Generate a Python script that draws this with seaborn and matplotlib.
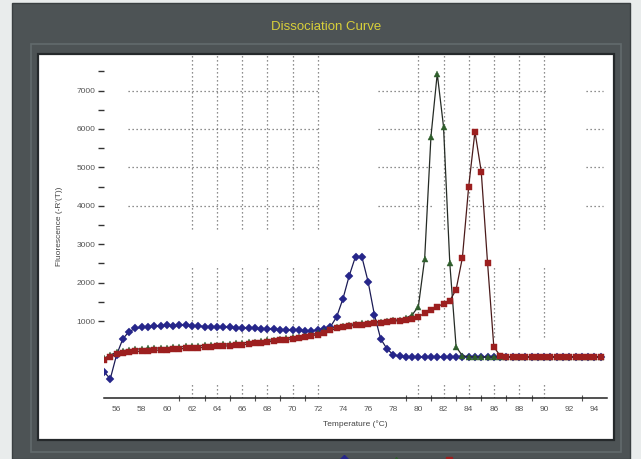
import numpy as np
import pandas as pd
import matplotlib
matplotlib.use("Agg")
import matplotlib.pyplot as plt
import seaborn as sns
from matplotlib.patches import Rectangle
from matplotlib.lines import Line2D

# ---------------- data ----------------
temperature = [55.0, 55.5, 56.0, 56.5, 57.0, 57.5, 58.0, 58.5, 59.0, 59.5,
               60.0, 60.5, 61.0, 61.5, 62.0, 62.5, 63.0, 63.5, 64.0, 64.5,
               65.0, 65.5, 66.0, 66.5, 67.0, 67.5, 68.0, 68.5, 69.0, 69.5,
               70.0, 70.5, 71.0, 71.5, 72.0, 72.5, 73.0, 73.5, 74.0, 74.5,
               75.0, 75.5, 76.0, 76.5, 77.0, 77.5, 78.0, 78.5, 79.0, 79.5,
               80.0, 80.5, 81.0, 81.5, 82.0, 82.5, 83.0, 83.5, 84.0, 84.5,
               85.0, 85.5, 86.0, 86.5, 87.0, 87.5, 88.0, 88.5, 89.0, 89.5,
               90.0, 90.5, 91.0, 91.5, 92.0, 92.5, 93.0, 93.5, 94.0, 94.5]

sample_blue = [-320, -500, 120, 540, 730, 810, 840, 860, 870, 880,
               890, 880, 890, 900, 880, 870, 860, 860, 850, 850,
               840, 830, 830, 820, 810, 800, 800, 790, 780, 770,
               760, 760, 750, 750, 760, 790, 850, 1110, 1580, 2180,
               2680, 2680, 2030, 1170, 540, 280, 125, 80, 75, 70,
               70, 75, 70, 70, 65, 70, 75, 70, 70, 65,
               70, 70, 75, 70, 65, 70, 70, 75, 70, 70,
               65, 70, 70, 75, 70, 70, 65, 70, 70, 75]

sample_green = [30, 120, 190, 230, 250, 270, 280, 290, 300, 300,
                310, 320, 330, 340, 350, 360, 370, 380, 390, 400,
                410, 420, 430, 450, 460, 480, 500, 520, 540, 560,
                580, 600, 620, 650, 690, 740, 800, 850, 880, 910,
                930, 950, 960, 980, 990, 1000, 1020, 1040, 1080, 1160,
                1380, 2625, 5800, 7440, 6060, 2500, 330, 100, 75, 70,
                70, 65, 70, 75, 70, 70, 65, 70, 70, 75,
                70, 70, 65, 70, 75, 70, 70, 65, 70, 70]

sample_red = [-20, 60, 140, 180, 200, 210, 220, 230, 240, 250,
              260, 270, 280, 290, 300, 310, 320, 330, 340, 350,
              360, 370, 390, 400, 420, 440, 460, 480, 500, 520,
              540, 570, 600, 620, 650, 700, 760, 810, 850, 870,
              890, 910, 930, 950, 960, 980, 1000, 1010, 1030, 1060,
              1120, 1200, 1290, 1380, 1450, 1530, 1820, 2650, 4500, 5930,
              4890, 2520, 330, 100, 75, 70, 70, 65, 70, 75,
              70, 70, 65, 70, 70, 75, 70, 70, 65, 70]

sample_names = ["Well A1", "Well A2", "Well A3"]
sample_colors = ["#26268a", "#2f5e2c", "#9c1f1f"]
line_colors = ["#1b1b55", "#252b25", "#4a1a1a"]
sample_markers = ["D", "^", "s"]

y_major = [1000, 2000, 3000, 4000, 5000, 6000, 7000]
y_minor = [1500, 2500, 3500, 4500, 5500, 6500, 7500]
x_major = [56, 58, 60, 62, 64, 66, 68, 70, 72, 74, 76, 78, 80, 82, 84, 86, 88, 90, 92, 94]
x_minor = [61, 62, 63, 64, 65, 66, 67, 68, 69, 70, 71, 72,
           79, 80, 81, 82, 83, 84, 85, 86, 87, 88, 89, 90, 93]
grid_x = [62, 64, 66, 68, 70, 72, 80, 82, 84, 86, 88, 90]
grid_y = [4000, 5000, 6000, 7000]
grid_x_spans = [(3400, 8000), (600, 2400), (-1000, -600)]
grid_y_spans = [(56.9, 72.2), (76.8, 81.1), (84.3, 90.3), (93.3, 94.7)]

df = pd.DataFrame({
    "Temperature": temperature * 3,
    "Fluorescence": sample_blue + sample_green + sample_red,
    "Sample": [sample_names[0]] * len(temperature)
              + [sample_names[1]] * len(temperature)
              + [sample_names[2]] * len(temperature),
})

# ---------------- figure ----------------
W, H = 641, 459
fig = plt.figure(figsize=(W / 100, H / 100), dpi=100)
fig.patch.set_facecolor("#e9ecec")

def fr(x0, y0, x1, y1):
    return (x0 / W, 1 - y1 / H), (x1 - x0) / W, (y1 - y0) / H

xy, w, h = fr(12, 3, 630, 459)
fig.add_artist(Rectangle(xy, w, h, transform=fig.transFigure,
                         facecolor="#4d5355", edgecolor="#3a3f41", lw=1, zorder=-10))
xy, w, h = fr(31, 44, 621, 452)
fig.add_artist(Rectangle(xy, w, h, transform=fig.transFigure,
                         facecolor="none", edgecolor="#626a6c", lw=1.2, zorder=-9))
xy, w, h = fr(38, 54, 614, 440)
fig.add_artist(Rectangle(xy, w, h, transform=fig.transFigure,
                         facecolor="white", edgecolor="#25292b", lw=1.6, zorder=-8))

fig.text(326 / W, 1 - 27 / H, "Dissociation Curve", color="#d8cf3a",
         fontsize=9.5, ha="center", va="center", family="Liberation Sans")

ax = fig.add_axes([104 / W, 1 - 398 / H, 503 / W, 344 / H])
ax.set_facecolor("none")

# grid (dotted segments)
for lo, hi in grid_x_spans:
    ax.vlines(grid_x, lo, hi, colors="#6a6a6a", linestyles=(0, (1, 2.2)), lw=0.9, zorder=1)
for lo, hi in grid_y_spans:
    ax.hlines(grid_y, lo, hi, colors="#6a6a6a", linestyles=(0, (1, 2.2)), lw=0.9, zorder=1)

sns.lineplot(data=df, x="Temperature", y="Fluorescence", hue="Sample", style="Sample",
             palette=dict(zip(sample_names, sample_colors)),
             markers=dict(zip(sample_names, sample_markers)), dashes=False,
             lw=0.9, markersize=4.0, markeredgewidth=0.3, ax=ax, legend=False, zorder=3)

# darker connecting lines, series-coloured markers
for ln, lc, mc in zip(ax.get_lines()[-3:], line_colors, sample_colors):
    ln.set_color(lc)
    ln.set_markerfacecolor(mc)
    ln.set_markeredgecolor(mc)

ax.set_xlim(55, 95)
ax.set_ylim(-1000, 7950)

for s in ["left", "top", "right"]:
    ax.spines[s].set_visible(False)
ax.spines["bottom"].set_color("#222222")
ax.spines["bottom"].set_linewidth(1.1)

ax.set_yticks(y_major)
ax.set_yticklabels([str(v) for v in y_major])
ax.set_yticks(y_minor, minor=True)
ax.set_xticks(x_major)
ax.set_xticklabels([str(v) for v in x_major])
ax.set_xticks(x_minor, minor=True)
ax.tick_params(axis="y", which="both", direction="out", length=4, width=1,
               color="#333333", labelsize=6, labelcolor="#555555", pad=2)
ax.tick_params(axis="x", which="major", length=0, labelsize=6,
               labelcolor="#555555", pad=6)
ax.tick_params(axis="x", which="minor", direction="inout", length=5, width=0.8,
               color="#555555")

ax.set_xlabel("Temperature (°C)", fontsize=6, color="#444444", labelpad=5)
ax.set_ylabel("Fluorescence (-R'(T))", fontsize=6, color="#444444", labelpad=10)

for t in ax.get_xticklabels() + ax.get_yticklabels():
    t.set_family("Liberation Sans")
ax.xaxis.label.set_family("Liberation Sans")
ax.yaxis.label.set_family("Liberation Sans")

# partially visible legend at the very bottom of the frame
handles = [Line2D([0], [0], color=c, marker=m, lw=1, markersize=5)
           for c, m in zip(sample_colors, sample_markers)]
fig.legend(handles, ["", "", ""], loc="upper left",
           bbox_to_anchor=(330 / W, 1 - 448 / H), ncol=3, frameon=False,
           handlelength=1.5, columnspacing=4, fontsize=6)

fig.savefig("out.png", dpi=100)
